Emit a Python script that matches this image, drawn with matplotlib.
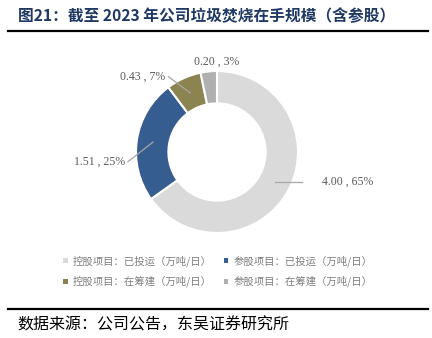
import numpy as np
import matplotlib
matplotlib.use("Agg")
import matplotlib.pyplot as plt
from matplotlib.lines import Line2D

plt.rcParams['font.family'] = ['Noto Sans CJK SC', 'DejaVu Sans']

# Capacity in hand (10k tonnes/day)
categories = ["控股项目：已投运（万吨/日）", "参股项目：已投运（万吨/日）",
              "控股项目：在筹建（万吨/日）", "参股项目：在筹建（万吨/日）"]
values = [4.00, 1.51, 0.43, 0.20]
colors = ["#DADADA", "#365D8F", "#8C8450", "#B0B0B0"]

W, H = 432, 338
fig = plt.figure(figsize=(W / 100, H / 100), dpi=100)

# Title and rules
fig.text(18 / W, 1 - 16 / H, "图21：截至 2023 年公司垃圾焚烧在手规模（含参股）",
         fontsize=11.3, fontweight="bold", color="#1F3864", va="center", ha="left")
fig.add_artist(Line2D([8 / W, 428 / W], [1 - 31 / H] * 2, color="black", lw=1.6))
fig.add_artist(Line2D([8 / W, 428 / W], [1 - 309 / H] * 2, color="black", lw=1.6))
fig.text(17 / W, 1 - 325 / H, "数据来源：公司公告，东吴证券研究所",
         fontsize=11.5, color="black", va="center", ha="left")

# Donut axes: center (217,152) px, radius 81 px
cx, cy, r = 217, 152, 81
ax = fig.add_axes([(cx - r) / W, (H - cy - r) / H, 2 * r / W, 2 * r / H])
wedges, _ = ax.pie(values, colors=colors, startangle=90, counterclock=False,
                   radius=1.0, wedgeprops=dict(width=0.4, edgecolor="white", linewidth=1.5))
ax.set_xlim(-1, 1)
ax.set_ylim(-1, 1)
ax.set_aspect("equal")
ax.axis("off")

total = sum(values)
label_style = dict(fontsize=8.5, color="#595959", family=["Liberation Serif", "DejaVu Serif"],
                   va="center")
lead = dict(color="#A6A6A6", lw=0.9)

# per-slice leader elbow and text anchor (None elbow = no leader line,
# None y = level with the leader start)
elbows = [(1.05, None), (-1.10, -0.12), (-0.60, 0.93), None]
texts = [(1.30, None), (-1.13, -0.12), (-0.64, 0.93), (0.0, 1.12)]
aligns = ["left", "right", "right", "center"]

for w, v, elbow, txt, ha in zip(wedges, values, elbows, texts, aligns):
    ang = np.deg2rad((w.theta1 + w.theta2) / 2)
    x0, y0 = 0.8 * np.cos(ang), 0.8 * np.sin(ang)
    label = f"{v:.2f} , {v / total * 100:.0f}%"
    if elbow is not None:
        ey = y0 if elbow[1] is None else elbow[1]
        ax.plot([x0, elbow[0]], [y0, ey], clip_on=False, **lead)
    ty = y0 if txt[1] is None else txt[1]
    ax.text(txt[0], ty, label, ha=ha, clip_on=False, **label_style)

# Legend, two rows of two
order = [0, 2, 1, 3]
leg = fig.legend([wedges[i] for i in order], [categories[i] for i in order],
                 ncol=2, loc="center", bbox_to_anchor=(218 / W, 1 - 271.5 / H),
                 frameon=False, fontsize=7.5, handlelength=0.4, handleheight=0.4,
                 handletextpad=0.5, columnspacing=1.2, labelspacing=0.85,
                 labelcolor="#7F7F7F")
for h in leg.legend_handles:
    h.set_edgecolor("none")

fig.savefig("out.png", dpi=100)
